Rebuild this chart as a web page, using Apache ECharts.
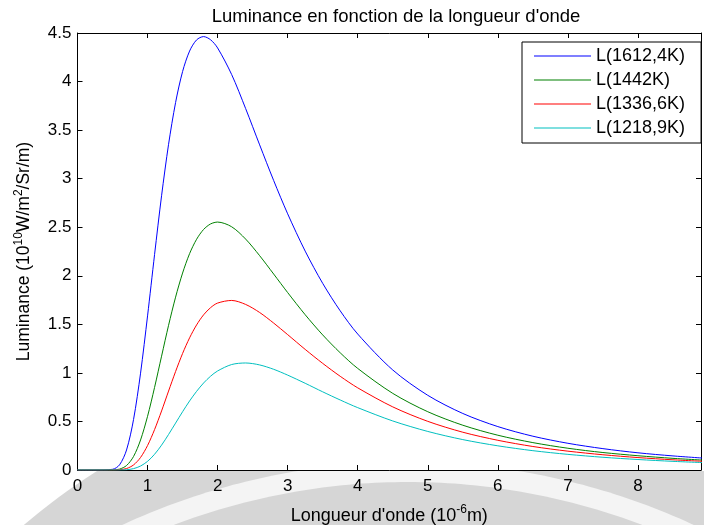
<!DOCTYPE html>
<html>
<head>
<meta charset="utf-8">
<script src="https://cdn.jsdelivr.net/npm/echarts@6/dist/echarts.min.js"></script>
<style>
html,body{margin:0;padding:0;background:#fff;}
#chart{width:704px;height:525px;}
</style>
</head>
<body>
<div id="chart"></div>
<script>
// Wavelength (10^-6 m)
const lambda = [0, 0.25, 0.5, 0.6, 0.7, 0.8, 0.9, 1.0, 1.1, 1.2, 1.3, 1.4, 1.5, 1.6, 1.7, 1.8, 1.9, 2.0, 2.2, 2.4, 2.6, 2.8, 3.0, 3.25, 3.5, 3.75, 4.0, 4.5, 5.0, 5.5, 6.0, 6.5, 7.0, 7.5, 8.0, 8.5, 9.0];
// Luminance (10^10 W/m^2/Sr/m)
const L1612 = [0, 0, 0.007, 0.053, 0.206, 0.520, 0.997, 1.587, 2.218, 2.824, 3.354, 3.784, 4.103, 4.314, 4.429, 4.463, 4.430, 4.346, 4.073, 3.722, 3.348, 2.981, 2.638, 2.254, 1.922, 1.639, 1.400, 1.030, 0.769, 0.582, 0.447, 0.348, 0.275, 0.220, 0.177, 0.145, 0.119];
const L1442 = [0, 0, 0.001, 0.009, 0.046, 0.139, 0.309, 0.553, 0.850, 1.172, 1.490, 1.780, 2.028, 2.228, 2.376, 2.477, 2.534, 2.553, 2.505, 2.378, 2.207, 2.018, 1.827, 1.599, 1.391, 1.207, 1.046, 0.789, 0.600, 0.461, 0.358, 0.282, 0.224, 0.180, 0.147, 0.120, 0.099];
const L1336 = [0, 0, 0, 0.003, 0.015, 0.052, 0.129, 0.252, 0.416, 0.608, 0.813, 1.014, 1.200, 1.361, 1.494, 1.598, 1.672, 1.719, 1.746, 1.705, 1.622, 1.513, 1.394, 1.242, 1.098, 0.965, 0.846, 0.650, 0.501, 0.389, 0.306, 0.242, 0.194, 0.157, 0.128, 0.105, 0.087];
const L1218 = [0, 0, 0, 0, 0.003, 0.014, 0.041, 0.089, 0.162, 0.256, 0.366, 0.483, 0.600, 0.711, 0.810, 0.896, 0.966, 1.020, 1.086, 1.102, 1.082, 1.037, 0.977, 0.893, 0.805, 0.721, 0.642, 0.505, 0.397, 0.313, 0.249, 0.199, 0.161, 0.131, 0.108, 0.089, 0.074];
const seriesNames = ['L(1612,4K)', 'L(1442K)', 'L(1336,6K)', 'L(1218,9K)'];
const seriesData = [L1612, L1442, L1336, L1218];
const colors = ['#0000ff', '#008000', '#ff0000', '#00bfbf'];
const titleText = "Luminance en fonction de la longueur d'onde";

const FONT = 'Liberation Sans, Arial, sans-serif';
const chart = echarts.init(document.getElementById('chart'), null, {renderer: 'canvas'});

function pairs(ys) { return lambda.map((x, i) => [x, ys[i]]); }

// decorative background watermark (below the plot), built as polygons
function arcPts(cx, cy, r, a0, a1, n) {
  const pts = [];
  for (let k = 0; k <= n; k++) {
    const a = a0 + (a1 - a0) * k / n;
    pts.push([cx + r * Math.cos(a), cy + r * Math.sin(a)]);
  }
  return pts;
}
const outerPoly = arcPts(430, 1000, 625, -Math.PI * 0.95, -Math.PI * 0.05, 160);
const bandPoly = arcPts(408, 1142, 680, -Math.PI / 2 - 0.6, -Math.PI / 2 + 0.6, 120);
const innerPoly = arcPts(408, 1142, 660, -Math.PI / 2 - 0.6, -Math.PI / 2 + 0.6, 120);

const axisCommon = {
  type: 'value',
  axisLine: {show: true, onZero: false, lineStyle: {color: '#000', width: 1}},
  axisTick: {show: true, inside: true, length: 5, lineStyle: {color: '#000'}},
  splitLine: {show: false},
};
const supStyle = {fontSize: 12, verticalAlign: 'top', lineHeight: 12, color: '#000', fontFamily: FONT};

const option = {
  backgroundColor: '#fff',
  animation: false,
  color: colors,
  textStyle: {fontFamily: FONT},
  title: {
    text: titleText,
    left: 391, top: 2, textAlign: 'center',
    textStyle: {fontSize: 18.5, fontWeight: 'normal', color: '#000', fontFamily: FONT}
  },
  graphic: [
    {type: 'polygon', z: -100, silent: true, shape: {points: outerPoly}, style: {fill: '#d6d6d6'}},
    {type: 'polygon', z: -99, silent: true, shape: {points: bandPoly}, style: {fill: '#f4f4f4'}},
    {type: 'polygon', z: -98, silent: true, shape: {points: innerPoly}, style: {fill: '#d6d6d6'}},
    {type: 'rect', z: -97, silent: true, shape: {x: 0, y: 0, width: 704, height: 471}, style: {fill: '#fff'}}
  ],
  legend: {
    orient: 'vertical', left: 522, top: 42,
    data: seriesNames,
    icon: 'rect',
    backgroundColor: '#fff', borderColor: '#000', borderWidth: 1,
    padding: [4, 16, 5, 12],
    itemWidth: 57, itemHeight: 1.2, itemGap: 4,
    textStyle: {fontSize: 18, color: '#000', lineHeight: 20, fontFamily: FONT}
  },
  grid: {left: 77.5, right: 3, top: 33, bottom: 55, containLabel: false, outerBoundsMode: 'none'},
  xAxis: [
    Object.assign({}, axisCommon, {
      position: 'bottom', min: 0, max: 8.9, interval: 1,
      axisLabel: {color: '#000', fontSize: 17, margin: 8, showMaxLabel: false, fontFamily: FONT},
      name: "Longueur d'onde (10{sup|-6}m)",
      nameLocation: 'middle', nameGap: 34,
      nameTextStyle: {color: '#000', fontSize: 18, fontFamily: FONT, lineHeight: 24, rich: {sup: supStyle}}
    }),
    Object.assign({}, axisCommon, {
      position: 'top', min: 0, max: 8.9, interval: 1,
      axisLabel: {show: false}
    })
  ],
  yAxis: [
    Object.assign({}, axisCommon, {
      position: 'left', min: 0, max: 4.5, interval: 0.5,
      axisLabel: {color: '#000', fontSize: 17, margin: 6, fontFamily: FONT},
      name: "Luminance (10{sup|10}W/m{sup|2}/Sr/m)",
      nameLocation: 'middle', nameGap: 41, nameRotate: 90,
      nameTextStyle: {color: '#000', fontSize: 17.5, fontFamily: FONT, lineHeight: 24, rich: {sup: supStyle}}
    }),
    Object.assign({}, axisCommon, {
      position: 'right', min: 0, max: 4.5, interval: 0.5,
      axisLabel: {show: false}
    })
  ],
  series: seriesData.map((d, i) => ({
    name: seriesNames[i],
    type: 'line',
    xAxisIndex: 0, yAxisIndex: 0,
    data: pairs(d),
    symbol: 'none',
    smooth: 0.3,
    lineStyle: {width: 1, color: colors[i]},
    itemStyle: {color: colors[i]},
    clip: true
  }))
};
chart.setOption(option);
</script>
</body>
</html>
